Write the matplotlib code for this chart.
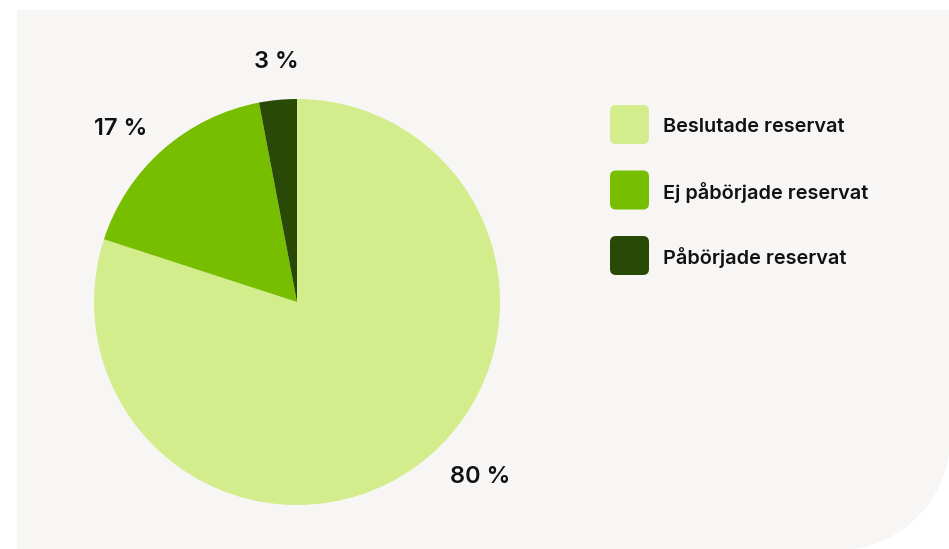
import numpy as np
import matplotlib.pyplot as plt
from matplotlib.patches import FancyBboxPatch, Polygon

W, H = 949, 549

categories = ["Beslutade reservat", "Ej påbörjade reservat", "Påbörjade reservat"]
shares = [80, 17, 3]
colors = ["#d3ed8d", "#78be00", "#294a07"]
# label positions in pie units (radius = 1)
label_pos = [(0.90, -0.86), (-0.87, 0.85), (-0.10, 1.18)]

plt.rcParams["font.family"] = ["Inter", "DejaVu Sans"]

fig = plt.figure(figsize=(W / 100, H / 100), dpi=100, facecolor="white")

# background canvas in pixel units
bg = fig.add_axes([0, 0, 1, 1])
bg.set_xlim(0, W)
bg.set_ylim(H, 0)
bg.axis("off")

# panel with a rounded bottom-right corner
left, top, right, bottom, rc = 17, 10, 950, 550, 112
t = np.linspace(0, np.pi / 2, 40)
arc = np.column_stack([right - rc + rc * np.cos(t), bottom - rc + rc * np.sin(t)])
pts = np.vstack([[left, top], [right, top], arc, [left, bottom]])
bg.add_patch(Polygon(pts, closed=True, facecolor="#f7f6f4", edgecolor="none"))

# legend
for i, (name, col) in enumerate(zip(categories, colors)):
    y0 = 105 + i * 65.5
    bg.add_patch(FancyBboxPatch((610, y0), 39, 39,
                                boxstyle="round,pad=0,rounding_size=6",
                                facecolor=col, edgecolor="none"))
    bg.text(663, y0 + 22, name, fontsize=14.3, fontweight="semibold",
            color="#111111", va="center", ha="left")

# pie: centre (297, 302), radius 203 px
cx, cy, r = 297, 302, 203
ax = fig.add_axes([(cx - r) / W, (H - cy - r) / H, 2 * r / W, 2 * r / H])
ax.pie(shares, colors=colors, startangle=90, counterclock=False,
       radius=1, wedgeprops=dict(linewidth=0))
ax.set_xlim(-1, 1)
ax.set_ylim(-1, 1)
ax.set_aspect("equal")
ax.axis("off")
for v, (x, y) in zip(shares, label_pos):
    ax.text(x, y, f"{v} %", fontsize=17, fontweight="semibold",
            color="#111111", ha="center", va="center", clip_on=False)

fig.savefig("out.png", dpi=100, facecolor="white")
